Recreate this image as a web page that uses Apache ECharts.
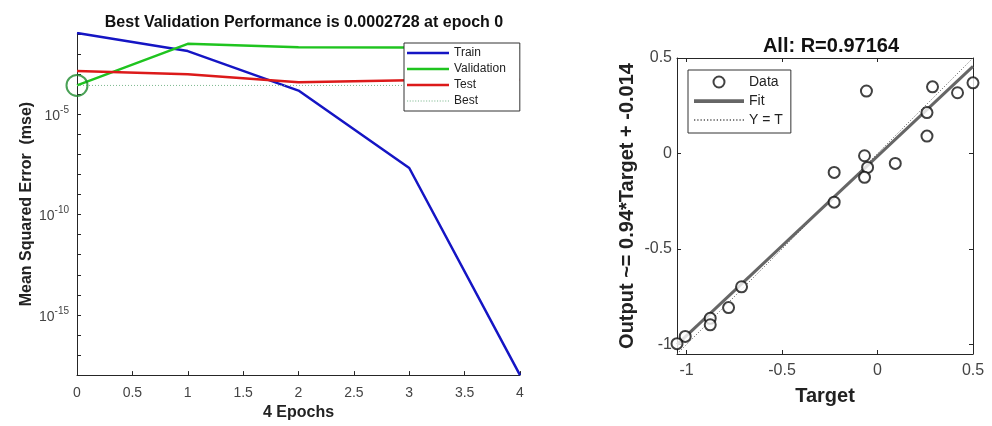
<!DOCTYPE html>
<html>
<head>
<meta charset="utf-8">
<script src="https://cdn.jsdelivr.net/npm/echarts@6/dist/echarts.min.js"></script>
<style>
html, body { margin: 0; background: #fff; }
#chart { width: 992px; height: 426px; }
</style>
</head>
<body>
<div id="chart"></div>
<script>
// performance plot (values stored as log10 of mse)
var epochs = [0, 1, 2, 3, 4];
var trainLog = [-0.95, -1.85, -3.82, -7.68, -18];
var valLog = [-3.564, -1.49, -1.66, -1.67, -1.68];
var testLog = [-2.84, -3.0, -3.41, -3.30, -3.28];
var bestPerf = 0.0002728;
var bestEpoch = 0;

// regression plot
var target = [-0.058, 0.288, 0.419, 0.5, 0.259, 0.259, -0.068, -0.052, 0.093, -0.227,
              -0.068, -0.227, -0.712, -0.780, -0.876, -0.876, -1.007, -1.05];
var output = [0.327, 0.349, 0.318, 0.370, 0.214, 0.091, -0.012, -0.073, -0.052, -0.099,
              -0.125, -0.255, -0.698, -0.807, -0.863, -0.897, -0.958, -0.996];
var fitSlope = 0.94;
var fitOffset = -0.014;
var rValue = 0.97164;
var regTicks = [-1, -0.5, 0, 0.5];
var regMin = -1.05, regMax = 0.5;

var font = 'Liberation Sans, Arial, sans-serif';
var axisCol = '#262626';

function pairs(xs, ys) {
    return xs.map(function (x, i) { return [x, ys[i]]; });
}

// legend icons: a plain bar, or a row of dots
var solidIcon = 'path://M0,0H40V2.6H0Z';
var dotIcon = (function () {
    var p = '';
    for (var i = 0; i < 40; i += 2.5) p += 'M' + i + ',0h1v1h-1z';
    return 'path://' + p;
})();

var bestLog = Math.log10(bestPerf);
var scatterData = pairs(target, output);
var fitLine = [[regMin, fitSlope * regMin + fitOffset], [regMax, fitSlope * regMax + fitOffset]];
var idLine = [[regMin, regMin], [regMax, regMax]];

function boxAxis(pos) {
    return { gridIndex: 1, type: 'value', min: regMin, max: regMax, position: pos,
             axisLine: { onZero: false, lineStyle: { color: axisCol } },
             axisTick: { inside: true, length: 4, customValues: regTicks, lineStyle: { color: axisCol } },
             axisLabel: { show: false }, splitLine: { show: false } };
}

var chart = echarts.init(document.getElementById('chart'));
var option = {
    animation: false,
    textStyle: { fontFamily: font },
    title: [
        { text: 'Best Validation Performance is ' + bestPerf + ' at epoch ' + bestEpoch,
          left: 299, top: 10, textAlign: 'center',
          textStyle: { fontSize: 16, fontWeight: 'bold', color: '#111', fontFamily: font } },
        { text: 'All: R=' + rValue,
          left: 826, top: 31, textAlign: 'center',
          textStyle: { fontSize: 20, fontWeight: 'bold', color: '#111', fontFamily: font } }
    ],
    grid: [
        { left: 77, right: 472, top: 33, bottom: 45 },
        { left: 677, right: 19, top: 58, bottom: 72 }
    ],
    legend: [
        { data: [
              { name: 'Train', icon: solidIcon },
              { name: 'Validation', icon: solidIcon },
              { name: 'Test', icon: solidIcon },
              { name: 'Best', icon: dotIcon }
          ],
          orient: 'vertical', left: 404, top: 43,
          itemWidth: 42, itemHeight: 10, itemGap: 4, itemTextGap: 3,
          padding: [4, 14, 4, 3],
          borderColor: '#333', borderWidth: 1, backgroundColor: '#fff',
          textStyle: { fontSize: 12, color: '#222', fontFamily: font } },
        { data: [
              { name: 'Data', icon: 'emptyCircle' },
              { name: 'Fit', icon: 'path://M0,0H40V3H0Z' },
              { name: 'Y = T', icon: dotIcon }
          ],
          orient: 'vertical', left: 688, top: 70,
          itemWidth: 50, itemHeight: 11, itemGap: 5, itemTextGap: 4,
          padding: [5, 8, 6, 6],
          borderColor: '#333', borderWidth: 1, backgroundColor: '#fff',
          textStyle: { fontSize: 14, color: '#222', fontFamily: font } }
    ],
    xAxis: [
        { gridIndex: 0, type: 'value', min: 0, max: 4, interval: 0.5,
          name: epochs.length - 1 + ' Epochs', nameLocation: 'middle', nameGap: 24,
          nameTextStyle: { fontSize: 16, fontWeight: 'bold', color: '#222' },
          axisLine: { onZero: false, lineStyle: { color: axisCol } },
          axisTick: { inside: true, length: 4, lineStyle: { color: axisCol } },
          axisLabel: { color: '#444', fontSize: 14, margin: 11 },
          splitLine: { show: false } },
        { gridIndex: 1, type: 'value', min: regMin, max: regMax,
          name: 'Target', nameLocation: 'middle', nameGap: 32,
          nameTextStyle: { fontSize: 20, fontWeight: 'bold', color: '#222' },
          axisLine: { onZero: false, lineStyle: { color: axisCol } },
          axisTick: { inside: true, length: 4, customValues: regTicks, lineStyle: { color: axisCol } },
          axisLabel: { customValues: regTicks, color: '#444', fontSize: 16, margin: 9 },
          splitLine: { show: false } },
        boxAxis('top')
    ],
    yAxis: [
        { gridIndex: 0, type: 'value', min: -18, max: trainLog[0], interval: 1,
          name: 'Mean Squared Error  (mse)', nameLocation: 'middle', nameGap: 39,
          nameTextStyle: { fontSize: 16, fontWeight: 'bold', color: '#222' },
          axisLine: { onZero: false, lineStyle: { color: axisCol } },
          axisTick: { inside: true, length: 4, lineStyle: { color: axisCol } },
          axisLabel: {
              color: '#444', margin: 8,
              formatter: function (v) {
                  return (v % 5 === 0) ? '{b|10}{s|' + v + '}' : '';
              },
              rich: {
                  b: { fontSize: 14, color: '#444', verticalAlign: 'bottom', lineHeight: 18 },
                  s: { fontSize: 10, color: '#444', verticalAlign: 'top', lineHeight: 18 }
              }
          },
          splitLine: { show: false } },
        { gridIndex: 1, type: 'value', min: regMin, max: regMax,
          name: 'Output ~= ' + fitSlope + '*Target + ' + fitOffset, nameLocation: 'middle', nameGap: 40,
          nameTextStyle: { fontSize: 20, fontWeight: 'bold', color: '#222' },
          axisLine: { onZero: false, lineStyle: { color: axisCol } },
          axisTick: { inside: true, length: 4, customValues: regTicks, lineStyle: { color: axisCol } },
          axisLabel: { customValues: regTicks, color: '#444', fontSize: 16, margin: 5 },
          splitLine: { show: false } },
        boxAxis('right')
    ],
    series: [
        { name: 'Train', type: 'line', xAxisIndex: 0, yAxisIndex: 0, symbol: 'none',
          data: pairs(epochs, trainLog), lineStyle: { color: '#1515c4', width: 2.5 }, itemStyle: { color: '#1515c4' } },
        { name: 'Validation', type: 'line', xAxisIndex: 0, yAxisIndex: 0, symbol: 'none',
          data: pairs(epochs, valLog), lineStyle: { color: '#1fc41f', width: 2.5 }, itemStyle: { color: '#1fc41f' } },
        { name: 'Test', type: 'line', xAxisIndex: 0, yAxisIndex: 0, symbol: 'none',
          data: pairs(epochs, testLog), lineStyle: { color: '#dc1a1a', width: 2.5 }, itemStyle: { color: '#dc1a1a' } },
        { name: 'Best', type: 'line', xAxisIndex: 0, yAxisIndex: 0, symbol: 'none',
          data: [[0, bestLog], [4, bestLog]],
          lineStyle: { color: '#7db88f', width: 1, type: [1, 2] }, itemStyle: { color: '#7db88f' } },
        { name: 'bestMark', type: 'scatter', xAxisIndex: 0, yAxisIndex: 0, clip: false,
          data: [[bestEpoch, bestLog]], symbol: 'circle', symbolSize: 21,
          itemStyle: { color: 'rgba(0,0,0,0)', borderColor: '#1d8a2c', borderWidth: 2 }, z: 5 },

        { name: 'Data', type: 'scatter', xAxisIndex: 1, yAxisIndex: 1, clip: false,
          data: scatterData, symbol: 'emptyCircle', symbolSize: 11,
          itemStyle: { color: '#111', borderColor: '#111', borderWidth: 1 }, z: 4 },
        { name: 'Fit', type: 'line', xAxisIndex: 1, yAxisIndex: 1, symbol: 'none',
          data: fitLine, lineStyle: { color: '#666', width: 3 }, itemStyle: { color: '#666' }, z: 3 },
        { name: 'Y = T', type: 'line', xAxisIndex: 1, yAxisIndex: 1, symbol: 'none',
          data: idLine, lineStyle: { color: '#555', width: 1, type: [1, 2] }, itemStyle: { color: '#555' }, z: 2 }
    ]
};
chart.setOption(option);
</script>
</body>
</html>
